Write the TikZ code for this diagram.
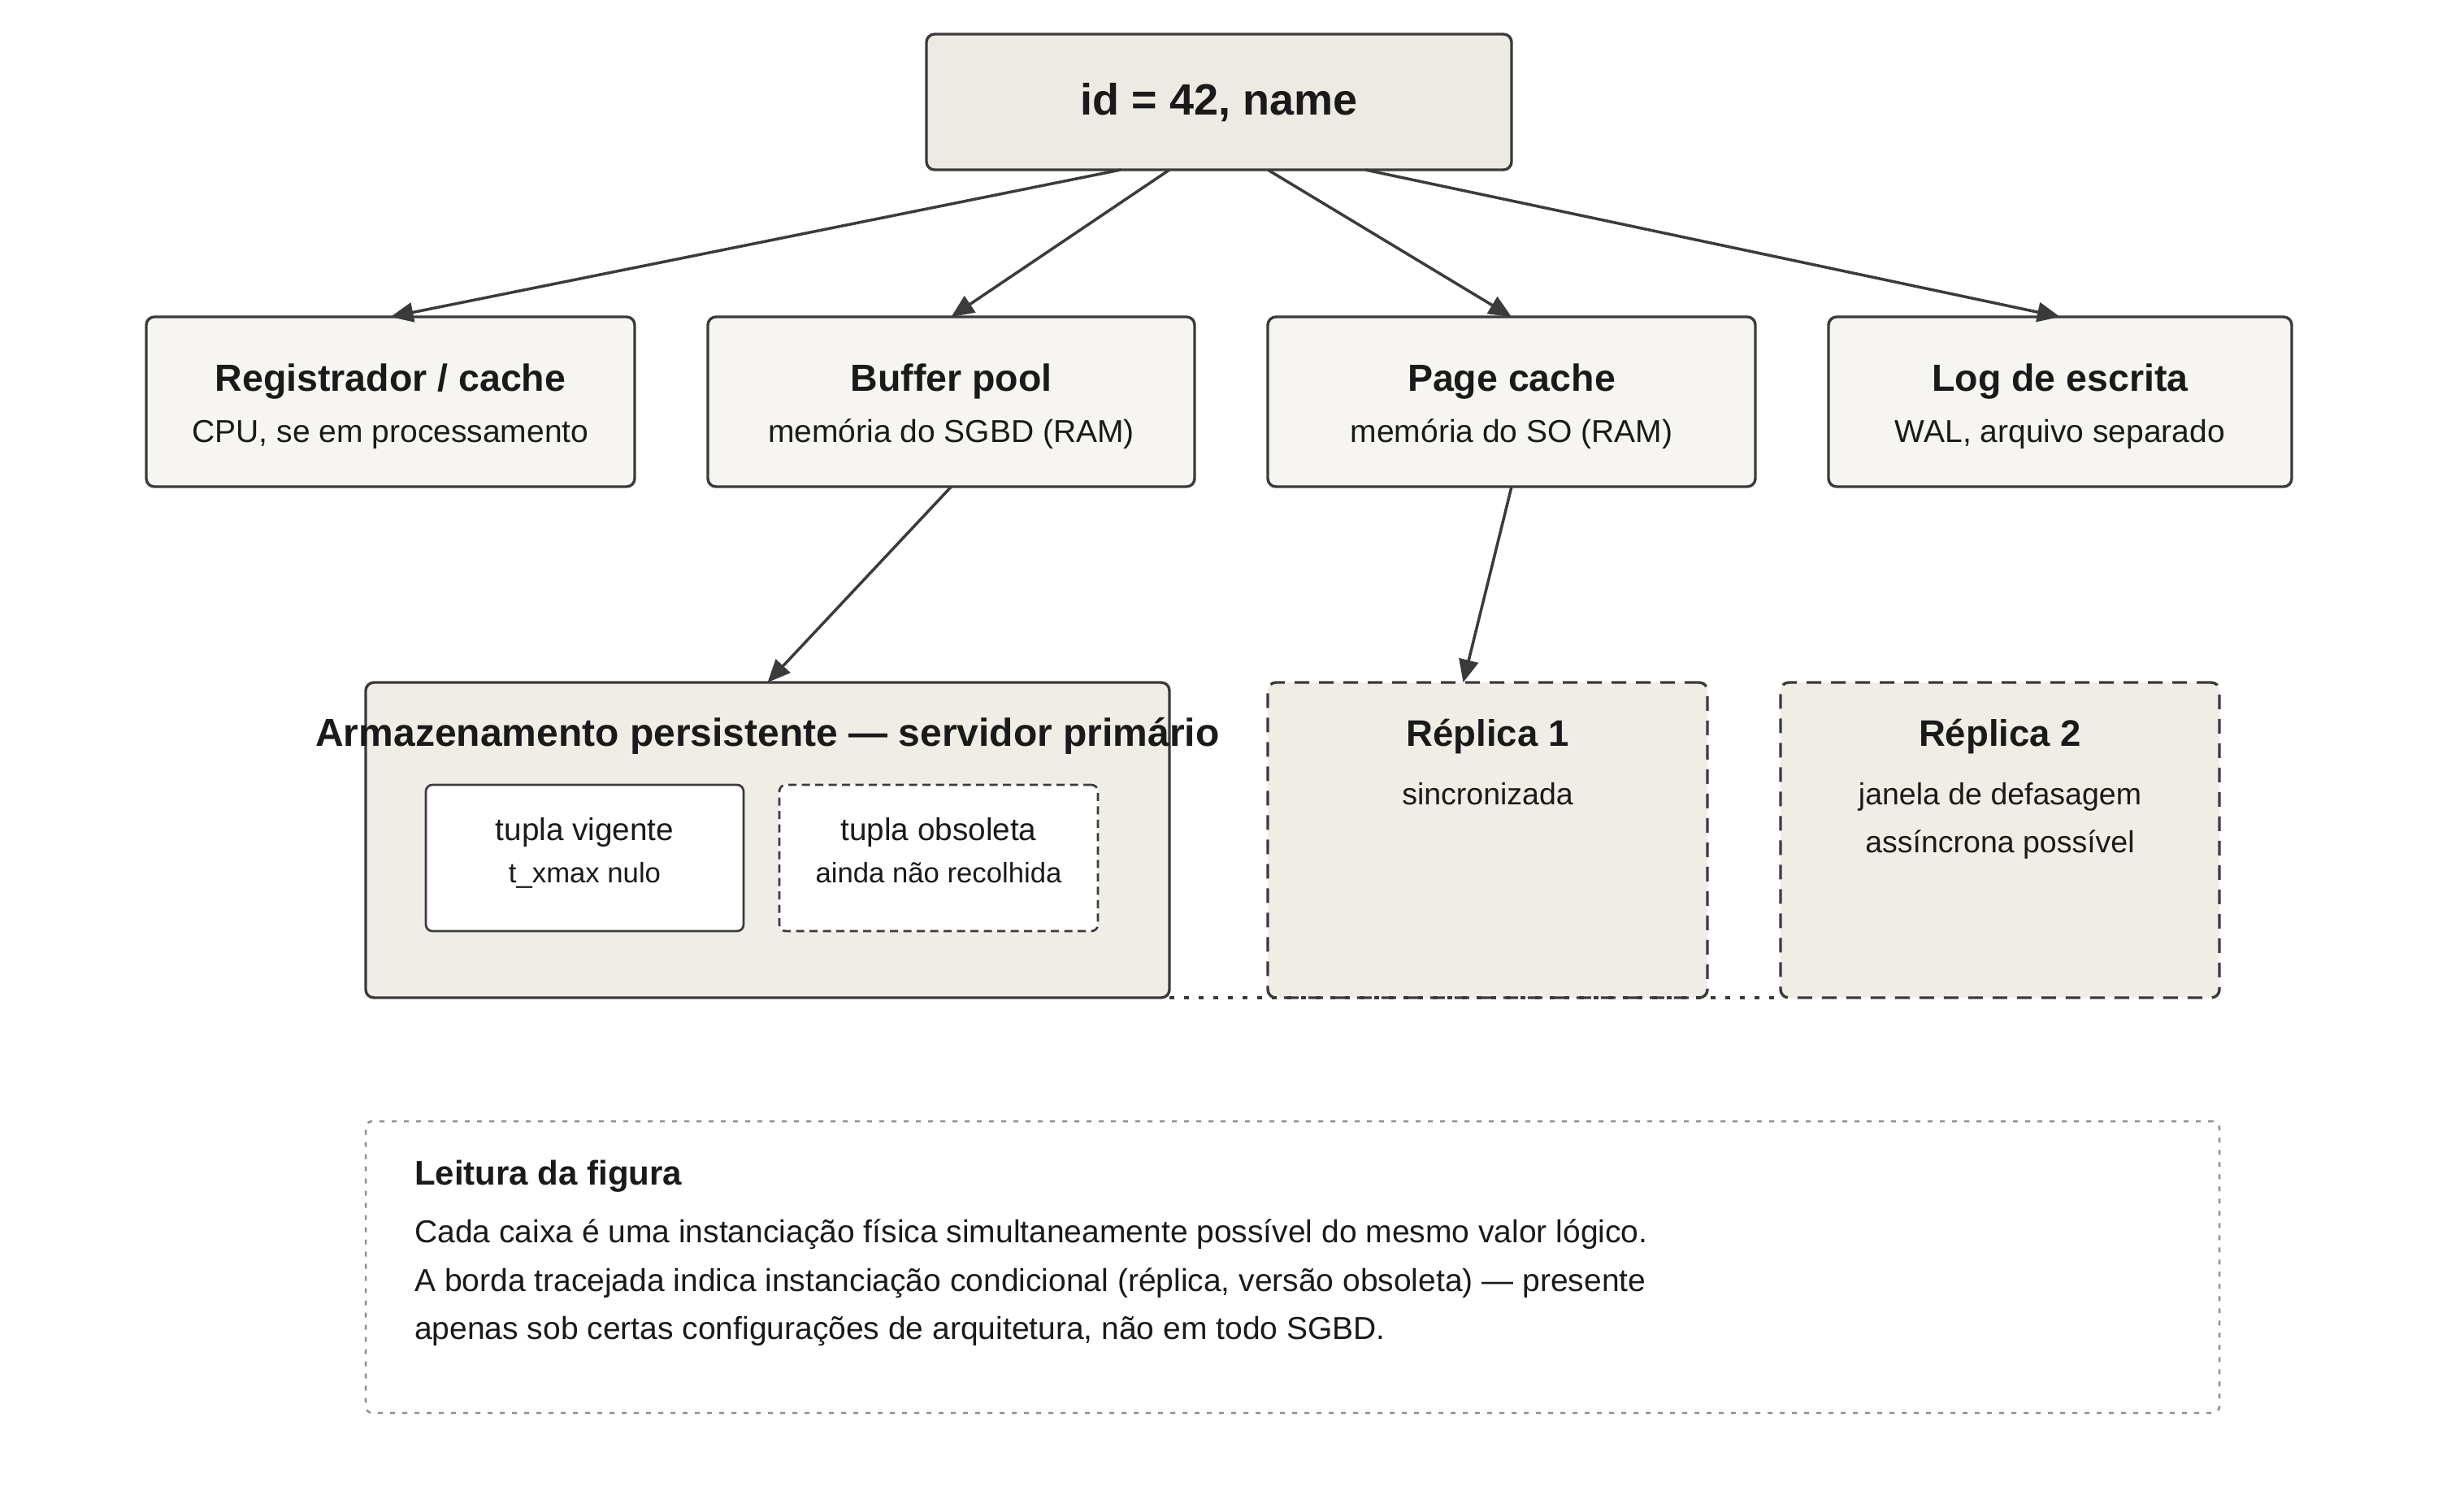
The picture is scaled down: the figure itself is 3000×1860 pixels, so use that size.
\documentclass[tikz,border=0pt]{standalone}
\usepackage{fontspec}
\setmainfont{Liberation Sans}
\usetikzlibrary{arrows.meta,calc}
\definecolor{ink}{HTML}{1A1A1A}
\definecolor{edge}{HTML}{3B3B3B}
\definecolor{topfill}{HTML}{EDEAE3}
\definecolor{midfill}{HTML}{F6F5F1}
\definecolor{lowfill}{HTML}{F0EDE6}
\definecolor{legedge}{HTML}{8F8F8F}
\newcommand{\fs}[1]{\fontsize{#1}{#1}\selectfont}
\begin{document}
\begin{tikzpicture}[x=1pt,y=-1pt,
  boxbase/.style={draw=edge, line width=3.4pt, rounded corners=10pt, inner sep=0pt, outer sep=0pt},
  topbox/.style={boxbase, fill=topfill},
  midbox/.style={boxbase, fill=midfill},
  lowbox/.style={boxbase, fill=lowfill},
  repbox/.style={boxbase, fill=lowfill, dash pattern=on 18pt off 12pt},
  tupbox/.style={draw=edge, line width=2.7pt, rounded corners=8pt, fill=white, inner sep=0pt},
  obsbox/.style={tupbox, dash pattern=on 10pt off 6.5pt},
  legbox/.style={draw=legedge, line width=2.5pt, rounded corners=8pt, fill=white, dash pattern=on 6pt off 9pt, inner sep=0pt},
  txt/.style={anchor=base, text=ink, inner sep=0pt},
  ltxt/.style={anchor=base west, text=ink, inner sep=0pt},
  arr/.style={draw=edge, line width=3.5pt, -{Triangle[length=28pt,width=24pt]}},
  link/.style={draw=edge, line width=3.3pt, dash pattern=on 6pt off 12pt}
]
\useasboundingbox (0,0) rectangle (3000,1860);
\fill[white] (0,0) rectangle (3000,1860);

% top box
\node[topbox, minimum width=720pt, minimum height=167pt] (top) at (1500,125.5) {};
\node[txt, font=\bfseries\fs{54}] (toptxt) at (1500,141) {id = 42, name};

% row 2
\node[midbox, minimum width=601pt, minimum height=209pt] (reg) at (480.5,494.5) {};
\node[txt, font=\bfseries\fs{46.5}] (regt) at (480.5,481) {Registrador / cache};
\node[txt, font=\fs{39}] (regs) at (480.5,544) {CPU, se em processamento};

\node[midbox, minimum width=599pt, minimum height=209pt] (buf) at (1170.5,494.5) {};
\node[txt, font=\bfseries\fs{46.5}] (buft) at (1170.5,481) {Buffer pool};
\node[txt, font=\fs{39}] (bufs) at (1170.5,544) {memória do SGBD (RAM)};

\node[midbox, minimum width=600pt, minimum height=209pt] (page) at (1860,494.5) {};
\node[txt, font=\bfseries\fs{46.5}] (paget) at (1860,481) {Page cache};
\node[txt, font=\fs{39}] (pages) at (1860,544) {memória do SO (RAM)};

\node[midbox, minimum width=570pt, minimum height=209pt] (log) at (2535,494.5) {};
\node[txt, font=\bfseries\fs{46.5}] (logt) at (2535,481) {Log de escrita};
\node[txt, font=\fs{39}] (logs) at (2535,544) {WAL, arquivo separado};

% row 3
\node[lowbox, minimum width=989pt, minimum height=388pt] (stor) at (944.5,1034) {};
\node[tupbox, minimum width=391pt, minimum height=180pt] (vig) at (719.5,1056) {};
\node[obsbox, minimum width=392pt, minimum height=180pt] (obs) at (1155,1056) {};

\node[repbox, minimum width=541pt, minimum height=388pt] (rep1) at (1830.5,1034) {};
\node[repbox, minimum width=540pt, minimum height=388pt] (rep2) at (2461,1034) {};

\draw[link] (stor.south east) -- (rep2.south west);

\node[txt, font=\bfseries\fs{48}] (stort) at (944.5,918) {Armazenamento persistente — servidor primário};
\node[txt, font=\fs{38.7}] (vigt) at (719.5,1034) {tupla vigente};
\node[txt, font=\fs{34.7}] (vigs) at (719.5,1086) {t\_xmax nulo};
\node[txt, font=\fs{38.7}] (obst) at (1155,1034) {tupla obsoleta};
\node[txt, font=\fs{34.7}] (obss) at (1155,1086) {ainda não recolhida};

\node[txt, font=\bfseries\fs{45.5}] (rep1t) at (1830.5,918) {Réplica 1};
\node[txt, font=\fs{37.5}] (rep1s) at (1830.5,990) {sincronizada};
\node[txt, font=\bfseries\fs{45.5}] (rep2t) at (2461,918) {Réplica 2};
\node[txt, font=\fs{37.5}] (rep2s) at (2461,990) {janela de defasagem};
\node[txt, font=\fs{37.5}] (rep2u) at (2461,1049) {assíncrona possível};

% legend
\node[legbox, minimum width=2281pt, minimum height=359pt] (leg) at (1590.5,1559.5) {};
\node[ltxt, font=\bfseries\fs{42}] (legt) at (510,1458) {Leitura da figura};
\node[ltxt, font=\fs{39}] (leg1) at (510,1529) {Cada caixa é uma instanciação física simultaneamente possível do mesmo valor lógico.};
\node[ltxt, font=\fs{39}] (leg2) at (510,1589) {A borda tracejada indica instanciação condicional (réplica, versão obsoleta) — presente};
\node[ltxt, font=\fs{39}] (leg3) at (510,1648) {apenas sob certas configurações de arquitetura, não em todo SGBD.};

% arrows
\draw[arr] ($(top.south)+(-121,0)$) -- (reg.north);
\draw[arr] ($(top.south)+(-61,0)$) -- (buf.north);
\draw[arr] ($(top.south)+(60,0)$) -- (page.north);
\draw[arr] ($(top.south)+(180,0)$) -- (log.north);
\draw[arr] (buf.south) -- (stor.north);
\draw[arr] (page.south) -- ($(rep1.north)+(-30,0)$);
\end{tikzpicture}
\end{document}
